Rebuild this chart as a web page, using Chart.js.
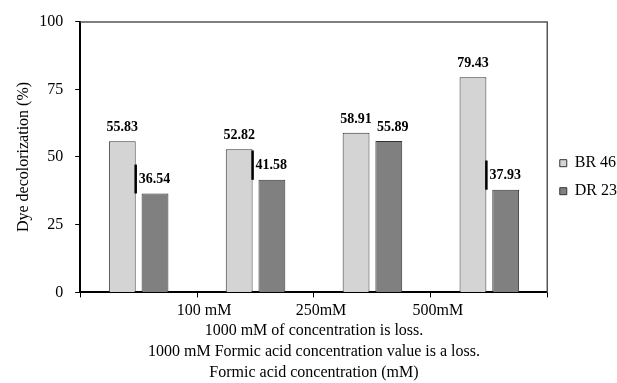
<!DOCTYPE html>
<html>
<head>
<meta charset="utf-8">
<script src="https://cdn.jsdelivr.net/npm/chart.js@4"></script>
<style>
    html, body { margin: 0; padding: 0; background: #fff; }
    #wrap { width: 617px; height: 383px; }
</style>
</head>
<body>
<div id="wrap"><canvas id="chart"></canvas></div>
<script>
// Data
const groups = ['1', '2', '3', '4'];
const tickLabels = ['', '100 mM', '250mM', '500mM', ''];
const br46 = [55.83, 52.82, 58.91, 79.43];
const dr23 = [36.54, 41.58, 55.89, 37.93];
// black marker lines drawn next to some DR 23 labels (from value up to this)
const markTop = [47.2, 52.4, null, 48.7];

const serif = "'Liberation Serif', 'Times New Roman', serif";
Chart.defaults.font.family = serif;
Chart.defaults.color = '#000';

// frame + marker lines + value labels
const annotate = {
    id: 'annotate',
    beforeDatasetsDraw(chart) {
        const { ctx, chartArea: a } = chart;
        ctx.save();
        ctx.strokeStyle = '#555';
        ctx.lineWidth = 1.5;
        ctx.beginPath();
        ctx.moveTo(a.left, a.top + 0.5);
        ctx.lineTo(a.right - 0.5, a.top + 0.5);
        ctx.lineTo(a.right - 0.5, a.bottom);
        ctx.stroke();
        ctx.restore();
    },
    afterDatasetsDraw(chart) {
        const { ctx } = chart;
        const y = chart.scales.y;
        const brBars = chart.getDatasetMeta(0).data;
        const drBars = chart.getDatasetMeta(1).data;
        ctx.save();
        ctx.font = 'bold 14px ' + serif;
        ctx.fillStyle = '#000';
        brBars.forEach((bar, i) => {
            ctx.textAlign = 'center';
            ctx.textBaseline = 'alphabetic';
            ctx.fillText(br46[i].toFixed(2), bar.x, bar.y - 10);
        });
        drBars.forEach((bar, i) => {
            if (markTop[i] == null) {
                ctx.textAlign = 'center';
                ctx.textBaseline = 'alphabetic';
                ctx.fillText(dr23[i].toFixed(2), bar.x + 4, bar.y - 10);
                return;
            }
            const lx = brBars[i].x + brBars[i].width / 2;
            const y0 = y.getPixelForValue(dr23[i]);
            const y1 = y.getPixelForValue(markTop[i]);
            ctx.fillRect(lx - 1.25, y1, 2.5, y0 - y1);
            ctx.textAlign = 'left';
            ctx.textBaseline = 'middle';
            ctx.fillText(dr23[i].toFixed(2), lx + 3, (y0 + y1) / 2);
        });
        ctx.restore();
    }
};

new Chart(document.getElementById('chart'), {
    type: 'bar',
    data: {
        labels: groups,
        datasets: [{
            label: 'BR 46',
            data: br46,
            backgroundColor: '#d4d4d4',
            borderColor: '#333',
            borderWidth: 1,
            borderSkipped: 'bottom',
            categoryPercentage: 0.56,
            barPercentage: 0.82
        }, {
            label: 'DR 23',
            data: dr23,
            backgroundColor: '#808080',
            borderColor: '#333',
            borderWidth: 1,
            borderSkipped: 'bottom',
            categoryPercentage: 0.56,
            barPercentage: 0.82
        }]
    },
    options: {
        responsive: true,
        maintainAspectRatio: false,
        animation: false,
        layout: { padding: { top: 19, right: -10, left: 6, bottom: 0 } },
        scales: {
            x: {
                display: false
            },
            x2: {
                type: 'category',
                position: 'bottom',
                labels: tickLabels,
                offset: false,
                border: { color: '#000', width: 2 },
                grid: { drawOnChartArea: false, offset: false, color: '#000', tickLength: 5 },
                ticks: { font: { size: 16 }, padding: 4, labelOffset: 7, maxRotation: 0, autoSkip: false },
                title: {
                    display: true,
                    text: ['1000 mM of concentration is loss.',
                           '1000 mM Formic acid concentration value is a loss.',
                           'Formic acid concentration (mM)'],
                    font: { size: 16, lineHeight: 1.3 },
                    padding: { top: -4, bottom: 0 }
                }
            },
            y: {
                min: 0,
                max: 100,
                ticks: { stepSize: 25, font: { size: 16 }, padding: 12 },
                border: { color: '#000', width: 2 },
                grid: { drawOnChartArea: false, color: '#000', tickLength: 5 },
                title: {
                    display: true,
                    text: 'Dye decolorization (%)',
                    font: { size: 16 },
                    padding: { top: 8, bottom: -6 }
                }
            }
        },
        plugins: {
            legend: {
                position: 'right',
                align: 'start',
                title: { display: true, text: ' ', font: { size: 16 }, padding: { top: 0, bottom: 105 } },
                labels: {
                    boxWidth: 7,
                    boxHeight: 7,
                    padding: 12,
                    font: { size: 16 },
                    color: '#000'
                }
            },
            tooltip: { enabled: false }
        }
    },
    plugins: [annotate]
});
</script>
</body>
</html>
